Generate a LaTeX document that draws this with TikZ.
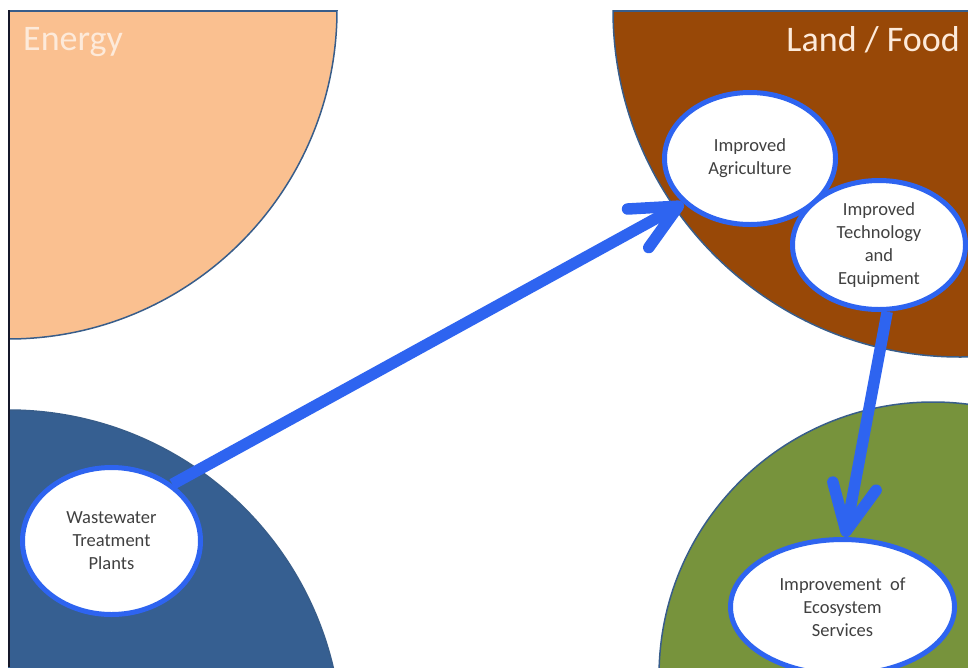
\documentclass[tikz,border=0pt]{standalone}
\usepackage{fontspec}
\setmainfont{Carlito}
\usetikzlibrary{shapes.geometric,arrows.meta}

\definecolor{energyfill}{HTML}{FAC090}
\definecolor{landfill}{HTML}{984807}
\definecolor{waterfill}{HTML}{365F91}
\definecolor{ecofill}{HTML}{77933C}
\definecolor{rimline}{HTML}{385D8A}
\definecolor{flowblue}{HTML}{2E64F0}
\definecolor{titlecream}{HTML}{FDEADA}
\definecolor{bodytext}{HTML}{404040}
\definecolor{edgeline}{HTML}{15182A}

\begin{document}
\begin{tikzpicture}[x=1pt,y=-1pt,
  sector/.style={draw=rimline,line width=1.5pt},
  bubble/.style={ellipse,draw=flowblue,fill=white,line width=5pt,inner sep=0pt,
    align=center,text=bodytext,font=\fontsize{18.5}{23}\selectfont},
  heading/.style={text=titlecream,font=\fontsize{36}{40}\selectfont,inner sep=0pt},
  flow/.style={draw=flowblue,line width=11.5pt,
    -{Straight Barb[length=46pt,width=44pt,round]}}
]
\useasboundingbox (0,0) rectangle (968,667);

% the four sector discs, cut at the slide edges
\begin{scope}
  \clip (8,10) rectangle (968,667);
  \path[sector,fill=energyfill] (8,10) circle[radius=329pt];
  \path[sector,fill=landfill] (960,10) circle[radius=347pt];
  \path[sector,fill=waterfill] (8,744) circle[radius=334pt];
  \path[sector,fill=ecofill] (933,676) circle[radius=274pt];
  % top rim where the upper discs meet the slide edge
  \begin{scope}
    \clip (8,10) circle[radius=329pt];
    \draw[rimline,line width=1.5pt] (8,10.75) -- (968,10.75);
  \end{scope}
  \begin{scope}
    \clip (960,10) circle[radius=347pt];
    \draw[rimline,line width=1.5pt] (8,10.75) -- (968,10.75);
  \end{scope}
\end{scope}

% left slide edge
\draw[edgeline,line width=2pt] (9,10) -- (9,667);

% sector headings
\node[heading,anchor=base west] (energy) at (23,50) {Energy};
\node[heading,anchor=base east] (land) at (960,51) {Land / Food};

% bubbles
\node[bubble,minimum width=178pt,minimum height=147pt] (ww) at (111.5,541)
  {Wastewater\\Treatment\\Plants};
\node[bubble,minimum width=171pt,minimum height=132pt] (agri) at (750,158.5)
  {Improved\\Agriculture};
\node[bubble,minimum width=173pt,minimum height=129pt] (tech) at (879,245)
  {Improved\\Technology\\and\\Equipment};
\node[bubble,minimum width=224pt,minimum height=135pt] (eco) at (842.5,607)
  {\raisebox{-3pt}{\parbox{150pt}{\centering Improvement\ \ of\\Ecosystem\\Services}}};

% flows between bubbles
\draw[flow] (ww.43) -- (agri.214);
\draw[flow] (tech.-83) -- (eco.88);
\end{tikzpicture}
\end{document}
